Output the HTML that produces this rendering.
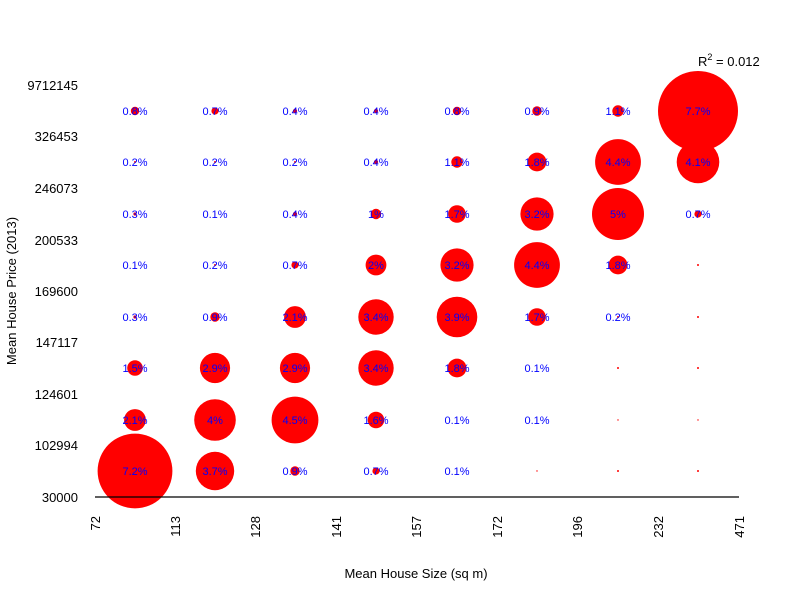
<!DOCTYPE html>
<html><head><meta charset="utf-8"><style>body{margin:0;background:#fff}svg{display:block}</style></head><body>
<svg width="800" height="600" xmlns="http://www.w3.org/2000/svg" font-family="Liberation Sans, sans-serif">
<rect width="800" height="600" fill="#fff"/>
<g fill="#ff0000">
<circle cx="135" cy="111" r="4.2"/><circle cx="215" cy="111" r="3.6"/><circle cx="295" cy="111" r="2.1"/><circle cx="376" cy="111" r="2.1"/><circle cx="457" cy="111" r="4.2"/><circle cx="537" cy="111" r="4.7"/><circle cx="618" cy="111" r="5.7"/><circle cx="698" cy="111" r="40"/>
<circle cx="135" cy="162" r="1"/><circle cx="215" cy="162" r="1"/><circle cx="295" cy="162" r="1"/><circle cx="376" cy="162" r="2.1"/><circle cx="457" cy="162" r="5.7"/><circle cx="537" cy="162" r="9.4"/><circle cx="618" cy="162" r="22.9"/><circle cx="698" cy="162" r="21.3"/>
<circle cx="135" cy="214" r="1.6"/><circle cx="215" cy="214" r="0.5"/><circle cx="295" cy="214" r="2.1"/><circle cx="376" cy="214" r="5.2"/><circle cx="457" cy="214" r="8.8"/><circle cx="537" cy="214" r="16.6"/><circle cx="618" cy="214" r="26"/><circle cx="698" cy="214" r="3.6"/>
<circle cx="135" cy="265" r="0.5"/><circle cx="215" cy="265" r="1"/><circle cx="295" cy="265" r="3.6"/><circle cx="376" cy="265" r="10.4"/><circle cx="457" cy="265" r="16.6"/><circle cx="537" cy="265" r="22.9"/><circle cx="618" cy="265" r="9.4"/><circle cx="698" cy="265" r="1"/>
<circle cx="135" cy="317" r="1.6"/><circle cx="215" cy="317" r="4.7"/><circle cx="295" cy="317" r="10.9"/><circle cx="376" cy="317" r="17.7"/><circle cx="457" cy="317" r="20.3"/><circle cx="537" cy="317" r="8.8"/><circle cx="618" cy="317" r="1"/><circle cx="698" cy="317" r="1"/>
<circle cx="135" cy="368" r="7.8"/><circle cx="215" cy="368" r="15.1"/><circle cx="295" cy="368" r="15.1"/><circle cx="376" cy="368" r="17.7"/><circle cx="457" cy="368" r="9.4"/><circle cx="537" cy="368" r="0.5"/><circle cx="618" cy="368" r="1"/><circle cx="698" cy="368" r="1"/>
<circle cx="135" cy="420" r="10.9"/><circle cx="215" cy="420" r="20.8"/><circle cx="295" cy="420" r="23.4"/><circle cx="376" cy="420" r="8.3"/><circle cx="457" cy="420" r="0.5"/><circle cx="537" cy="420" r="0.5"/><circle cx="618" cy="420" r="0.7"/><circle cx="698" cy="420" r="0.7"/>
<circle cx="135" cy="471" r="37.4"/><circle cx="215" cy="471" r="19.2"/><circle cx="295" cy="471" r="4.7"/><circle cx="376" cy="471" r="3.6"/><circle cx="457" cy="471" r="0.5"/><circle cx="537" cy="471" r="0.7"/><circle cx="618" cy="471" r="1"/><circle cx="698" cy="471" r="1"/>
</g>
<g font-size="11" fill="#0000ff" text-anchor="middle">
<text x="135" y="115">0.8%</text><text x="215" y="115">0.7%</text><text x="295" y="115">0.4%</text><text x="376" y="115">0.4%</text><text x="457" y="115">0.8%</text><text x="537" y="115">0.9%</text><text x="618" y="115">1.1%</text><text x="698" y="115">7.7%</text>
<text x="135" y="166">0.2%</text><text x="215" y="166">0.2%</text><text x="295" y="166">0.2%</text><text x="376" y="166">0.4%</text><text x="457" y="166">1.1%</text><text x="537" y="166">1.8%</text><text x="618" y="166">4.4%</text><text x="698" y="166">4.1%</text>
<text x="135" y="218">0.3%</text><text x="215" y="218">0.1%</text><text x="295" y="218">0.4%</text><text x="376" y="218">1%</text><text x="457" y="218">1.7%</text><text x="537" y="218">3.2%</text><text x="618" y="218">5%</text><text x="698" y="218">0.7%</text>
<text x="135" y="269">0.1%</text><text x="215" y="269">0.2%</text><text x="295" y="269">0.7%</text><text x="376" y="269">2%</text><text x="457" y="269">3.2%</text><text x="537" y="269">4.4%</text><text x="618" y="269">1.8%</text>
<text x="135" y="321">0.3%</text><text x="215" y="321">0.9%</text><text x="295" y="321">2.1%</text><text x="376" y="321">3.4%</text><text x="457" y="321">3.9%</text><text x="537" y="321">1.7%</text><text x="618" y="321">0.2%</text>
<text x="135" y="372">1.5%</text><text x="215" y="372">2.9%</text><text x="295" y="372">2.9%</text><text x="376" y="372">3.4%</text><text x="457" y="372">1.8%</text><text x="537" y="372">0.1%</text>
<text x="135" y="424">2.1%</text><text x="215" y="424">4%</text><text x="295" y="424">4.5%</text><text x="376" y="424">1.6%</text><text x="457" y="424">0.1%</text><text x="537" y="424">0.1%</text>
<text x="135" y="475">7.2%</text><text x="215" y="475">3.7%</text><text x="295" y="475">0.9%</text><text x="376" y="475">0.7%</text><text x="457" y="475">0.1%</text>
</g>
<line x1="95" y1="497" x2="739" y2="497" stroke="#000" stroke-width="1.3"/>
<g font-size="13" text-anchor="end" fill="#000">
<text x="78" y="90">9712145</text><text x="78" y="141">326453</text><text x="78" y="193">246073</text><text x="78" y="245">200533</text><text x="78" y="296">169600</text><text x="78" y="347">147117</text><text x="78" y="399">124601</text><text x="78" y="450">102994</text><text x="78" y="502">30000</text>
</g>
<g font-size="13" text-anchor="end" fill="#000">
<text transform="translate(100,516) rotate(-90)">72</text>
<text transform="translate(180,516) rotate(-90)">113</text>
<text transform="translate(260,516) rotate(-90)">128</text>
<text transform="translate(341,516) rotate(-90)">141</text>
<text transform="translate(421,516) rotate(-90)">157</text>
<text transform="translate(502,516) rotate(-90)">172</text>
<text transform="translate(582,516) rotate(-90)">196</text>
<text transform="translate(663,516) rotate(-90)">232</text>
<text transform="translate(744,516) rotate(-90)">471</text>
</g>
<text x="416" y="578" font-size="13" text-anchor="middle">Mean House Size (sq m)</text>
<text transform="translate(16,291) rotate(-90)" font-size="13" text-anchor="middle">Mean House Price (2013)</text>
<text x="698" y="66" font-size="13">R<tspan dy="-6" font-size="9">2</tspan><tspan dy="6"> = 0.012</tspan></text>
</svg>
</body></html>
